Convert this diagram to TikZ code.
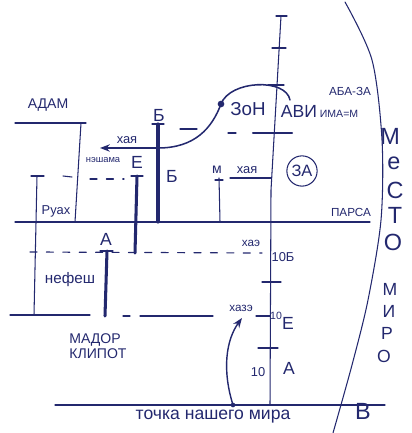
\documentclass[tikz,border=0pt]{standalone}
\usepackage{fontspec}
\setmainfont{Liberation Sans}
\usepackage{tikz}
\usetikzlibrary{arrows.meta, positioning}
\definecolor{ink}{RGB}{35,40,110}
\tikzset{
  lbl/.style={text=ink, inner sep=1pt, font=\fontsize{12}{13}\selectfont},
  biglbl/.style={lbl, font=\fontsize{15}{16}\selectfont},
  smalllbl/.style={lbl, font=\fontsize{9}{10}\selectfont},
  letter/.style={lbl, inner sep=0pt, font=\fontsize{20}{20}\selectfont},
  smallletter/.style={lbl, inner sep=0pt, font=\fontsize{15}{15}\selectfont},
  thinline/.style={draw=ink, line width=0.9pt},
  thickbar/.style={draw=ink, line width=2.6pt},
  dashline/.style={draw=ink, line width=1pt, dash pattern=on 6pt off 8pt},
  arrow/.style={-Stealth, line width=1.2pt, draw=ink}
}

\begin{document}
\begin{tikzpicture}[x=0.03cm, y=-0.03cm, line cap=round]
  \useasboundingbox (0,0) rectangle (411,433);

  % Coordinates
  \coordinate (axtop) at (281,16);
  \coordinate (axmid) at (271,190);
  \coordinate (axbot) at (270,405);
  \coordinate (parsaL) at (15,222);
  \coordinate (parsaR) at (370,222);
  \coordinate (botL) at (55,405);
  \coordinate (botR) at (385,405);
  \coordinate (dot) at (221,104);
  \coordinate (pt) at (233,405);

  % Axis and levels
  \draw[thinline] (axtop) -- (axmid) -- (axbot);
  \foreach \y/\xa/\xb in {16/276/287, 48/272/286, 85/268/284, 282/262/281, 348/258/278}
    \draw[thinline] (\xa,\y) -- (\xb,\y);
  \draw[draw=ink, line width=1.8pt] (253,133) -- (292,133);
  \draw[thinline] (parsaL) -- (parsaR);
  \draw[thinline] (botL) -- (botR);

  % Adam
  \draw[thinline] (15,123) -- (86,123);
  \draw[thinline] (81,123) -- (75,222);
  \draw[thinline] (31,176) -- (44,176);
  \draw[thinline] (37,176) -- (34,315);
  \draw[thinline] (10,315) -- (90,315);

  % Bars
  \draw[thinline] (152,124) -- (164,124);
  \draw[thickbar] (158,124) -- (158,222);
  \draw[thinline] (131,176) -- (143,176);
  \draw[thickbar] (137,176) -- (135,253);
  \draw[thinline] (100,251) -- (113,251);
  \draw[thickbar] (107,251) -- (105,316);
  \draw[thinline] (215,180) -- (223,180);
  \draw[thinline] (219,178) -- (220,222);

  % Dashes
  \draw[thinline] (63,176) -- (72,177);
  \draw[dashline] (90,179) -- (124,179);
  \draw[thinline] (180,129) -- (197,129);
  \draw[thinline] (228,133) -- (236,133);
  \draw[thinline] (230,178) -- (271,178);
  \draw[dashline] (30,252) -- (262,253);
  \draw[thinline] (123,316) -- (130,316);
  \draw[thinline] (140,316) -- (213,316);
  \draw[thinline] (256,316) -- (270,316);

  % Curve and arrows
  \draw[draw=ink, line width=1.3pt] (158,148) .. controls (195,148) and (212,128) .. (dot)
    .. controls (230,80) and (286,78) .. (290,100);
  \fill[ink] (dot) circle (0.1cm);
  \draw[arrow] (158,148) -- (100,148);
  \fill[ink] (pt) circle (0.07cm);
  \draw[arrow] (pt) .. controls (222,370) and (226,340) .. (242,318);

  % World border
  \draw[thinline] plot[smooth] coordinates {(345,2) (372,60) (382,140) (381,220) (368,300) (352,365) (333,433)};

  % Nodes
  \node[lbl] (adam) at (48,105) {АДАМ};
  \node[lbl, font=\fontsize{11}{12}\selectfont] (haya) at (127,140) {хая};
  \node[smalllbl, font=\fontsize{8}{9}\selectfont] (neshama) at (103,160) {нэшама};
  \node[biglbl] (betTop) at (159,115) {Б};
  \node[biglbl] (betRight) at (172,176) {Б};
  \node[biglbl] (eLbl) at (137,162) {Е};
  \node[lbl, font=\fontsize{11}{12}\selectfont] (ruah) at (56,211) {Руах};
  \node[biglbl] (aLbl) at (106,239) {А};
  \node[lbl, font=\fontsize{13}{14}\selectfont] (nefesh) at (70,280) {нефеш};
  \node[lbl, align=left, anchor=north west] (mador) at (68,332) {МАДОР\\КЛИПОТ};

  \node[lbl, font=\fontsize{16}{17}\selectfont] (zon) at (248,109) {ЗоН};
  \node[biglbl] (avi) at (299,111) {АВИ};
  \node[smalllbl, right=0pt of avi.south east, anchor=south west] (ima) {ИМА=М};
  \node[smalllbl, font=\fontsize{10}{11}\selectfont] (abaza) at (350,91) {АБА-ЗА};
  \node[lbl] (mem) at (217,170) {м};
  \node[lbl, font=\fontsize{11}{12}\selectfont] (hayaM) at (247,170) {хая};
  \node[lbl, font=\fontsize{14}{15}\selectfont, draw=ink, circle, line width=0.9pt, inner sep=2pt] (za) at (302,171) {ЗА};
  \node[smalllbl, font=\fontsize{10}{11}\selectfont] (parsa) at (351,212) {ПАРСА};
  \node[smalllbl, font=\fontsize{10}{11}\selectfont] (hazeTop) at (251,243) {хаэ};
  \node[lbl, font=\fontsize{11}{12}\selectfont] (tenB) at (283,257) {10Б};
  \node[smalllbl, font=\fontsize{10}{11}\selectfont] (haze) at (241,308) {хазэ};
  \node[smalllbl] (tenE) at (276,316) {10};
  \node[biglbl] (eAx) at (288,323) {Е};
  \node[biglbl] (aAx) at (289,368) {А};
  \node[lbl, font=\fontsize{11}{12}\selectfont] (ten) at (258,372) {10};
  \node[lbl, font=\fontsize{15}{16}\selectfont] (point) at (213,417) {точка нашего мира};

  % Vertical letters
  \foreach \t/\x/\y in {М/390/136, е/394/163, С/395/190, Т/395/215, О/393/242}
    \node[letter] at (\x,\y) {\t};
  \foreach \t/\x/\y in {М/390/289, И/389/311, Р/387/333, О/384/356}
    \node[smallletter] at (\x,\y) {\t};
  \node[letter] (vav) at (363,411) {В};

\end{tikzpicture}
\end{document}
